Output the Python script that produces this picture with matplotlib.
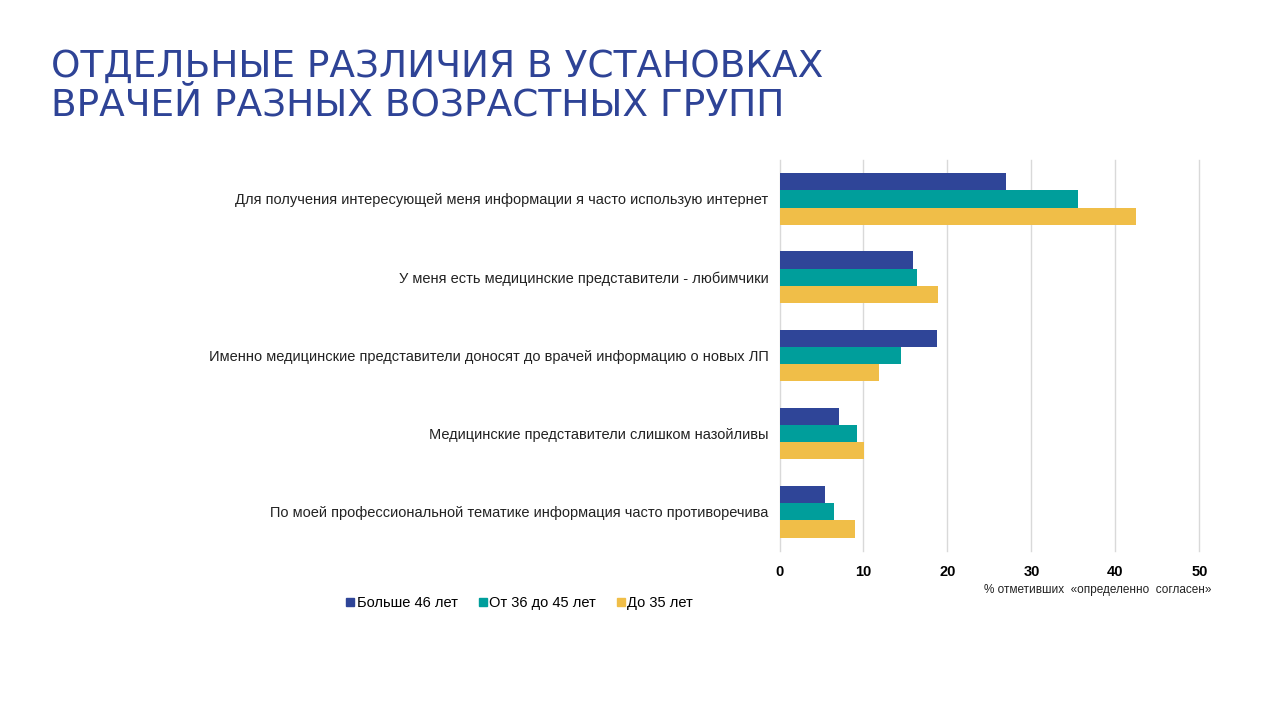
import numpy as np
import matplotlib.pyplot as plt
from matplotlib.lines import Line2D

plt.rcParams['font.family'] = ['Liberation Sans', 'DejaVu Sans']

# data
categories = [
    'Для получения интересующей меня информации я часто использую интернет',
    'У меня есть медицинские представители - любимчики',
    'Именно медицинские представители доносят до врачей информацию о новых ЛП',
    'Медицинские представители слишком назойливы',
    'По моей профессиональной тематике информация часто противоречива',
]
series_names = ['Больше 46 лет', 'От 36 до 45 лет', 'До 35 лет']
over_46 = [27.0, 15.9, 18.8, 7.1, 5.4]
from_36_to_45 = [35.6, 16.4, 14.5, 9.2, 6.5]
under_35 = [42.4, 18.9, 11.9, 10.1, 9.0]
x_ticks = [0, 10, 20, 30, 40, 50]

colors = ['#2F4598', '#009E9B', '#F0BE48']
title_color = '#2E4396'

fig = plt.figure(figsize=(12.8, 7.2), dpi=100)
title_font = ['DejaVu Sans']
fig.text(0.040, 0.893, 'ОТДЕЛЬНЫЕ РАЗЛИЧИЯ В УСТАНОВКАХ', family=title_font,
         fontsize=27, color=title_color, va='baseline', ha='left')
fig.text(0.040, 0.839, 'ВРАЧЕЙ РАЗНЫХ ВОЗРАСТНЫХ ГРУПП', family=title_font,
         fontsize=27, color=title_color, va='baseline', ha='left')

ax = fig.add_axes([0.609, 0.235, 0.328, 0.543])
y = np.arange(len(categories))
h = 0.22
for i, (vals, name) in enumerate(zip([over_46, from_36_to_45, under_35], series_names)):
    ax.barh(y + (i - 1) * h, vals, height=h, color=colors[i], label=name, zorder=3)

ax.set_xlim(0, 50)
ax.set_ylim(4.5, -0.5)
ax.set_xticks(x_ticks)
ax.set_xticklabels([str(t) for t in x_ticks], fontweight='bold', fontsize=10.5)
ax.set_yticks(y)
ax.set_yticklabels(categories, fontsize=10.5, color='#222222')
ax.tick_params(length=0, pad=10)
ax.tick_params(axis='y', pad=8)
ax.grid(axis='x', color='#D9D9D9', linewidth=1, zorder=0)
for gl in ax.get_xgridlines():
    gl.set_clip_on(False)
for s in ax.spines.values():
    s.set_visible(False)

fig.text(0.946, 0.180, '% отметивших  «определенно  согласен»', fontsize=8.5,
         ha='right', va='center', color='#222222')

handles = [Line2D([], [], marker='s', linestyle='', markersize=5.5, color=c) for c in colors]
fig.legend(handles, series_names, loc='center left', bbox_to_anchor=(0.259, 0.163),
           ncol=3, frameon=False, fontsize=10.5, handletextpad=0.05, columnspacing=1.3,
           handlelength=0.8)

fig.savefig('out.png', dpi=100, facecolor='white')
